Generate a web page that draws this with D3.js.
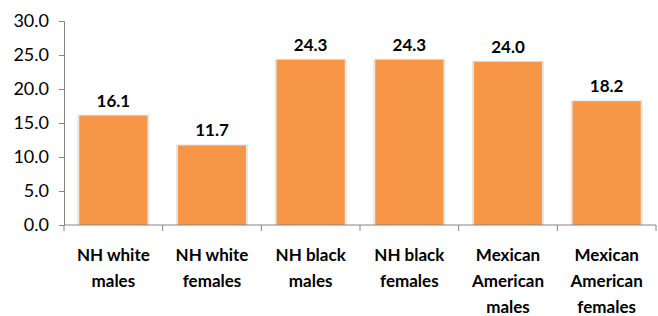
<!DOCTYPE html>
<html>
<head>
<meta charset="utf-8">
<script src="https://cdn.jsdelivr.net/npm/d3@7"></script>
<style>
  body { margin: 0; background: #fff; }
  svg { display: block; }
  text { font-family: Lato, "Open Sans", sans-serif; fill: #000; }
</style>
</head>
<body>
<script>
// chart size
const w = 658;
const h = 316;

// data
const categories = [
  ["NH white", "males"],
  ["NH white", "females"],
  ["NH black", "males"],
  ["NH black", "females"],
  ["Mexican", "American", "males"],
  ["Mexican", "American", "females"]
];
const values = [16.1, 11.7, 24.3, 24.3, 24.0, 18.2];
const yTicks = [0, 5, 10, 15, 20, 25, 30];

const plotLeft = 64, plotRight = 656, plotTop = 21, plotBottom = 225;

const svg = d3.select("body").append("svg")
    .attr("width", w)
    .attr("height", h);

const xScale = d3.scaleBand()
    .domain(d3.range(values.length))
    .range([plotLeft, plotRight])
    .paddingInner(0.31)
    .paddingOuter(0.155);

const yScale = d3.scaleLinear()
    .domain([0, 30])
    .range([plotBottom, plotTop]);

// bar shadows
svg.selectAll("rect.shadow")
    .data(values)
    .enter()
    .append("rect")
    .attr("class", "shadow")
    .attr("x", (d, i) => xScale(i) - 2)
    .attr("y", d => yScale(d) - 1)
    .attr("width", xScale.bandwidth() + 4)
    .attr("height", d => plotBottom - yScale(d) + 1)
    .attr("fill", "#e6e6e6");

// bars
svg.selectAll("rect.bar")
    .data(values)
    .enter()
    .append("rect")
    .attr("class", "bar")
    .attr("x", (d, i) => xScale(i))
    .attr("y", d => yScale(d))
    .attr("width", xScale.bandwidth())
    .attr("height", d => plotBottom - yScale(d))
    .attr("fill", "#f79646");

// value labels
svg.selectAll("text.val")
    .data(values)
    .enter()
    .append("text")
    .attr("class", "val")
    .attr("x", (d, i) => xScale(i) + xScale.bandwidth() / 2)
    .attr("y", d => yScale(d) - 9)
    .attr("text-anchor", "middle")
    .attr("font-size", 17)
    .attr("font-weight", "bold")
    .text(d => d.toFixed(1));

// y axis
const yAxis = svg.append("g")
    .attr("transform", `translate(${plotLeft},0)`)
    .call(d3.axisLeft(yScale).tickValues(yTicks).tickFormat(d3.format(".1f")).tickSizeOuter(5).tickSizeInner(5).tickPadding(10));
yAxis.selectAll("text").attr("font-size", 18).style("font-family", "Lato, sans-serif").attr("fill", "#000");
yAxis.selectAll("line, path").attr("stroke", "#868686");

// x axis
const xAxis = svg.append("g")
    .attr("transform", `translate(0,${plotBottom})`);
xAxis.append("line")
    .attr("x1", plotLeft).attr("x2", plotRight)
    .attr("stroke", "#868686");
const bounds = d3.range(values.length + 1).map(i => plotLeft + i * xScale.step());
xAxis.selectAll("line.tick")
    .data(bounds)
    .enter()
    .append("line")
    .attr("class", "tick")
    .attr("x1", d => d).attr("x2", d => d)
    .attr("y1", 0).attr("y2", 6)
    .attr("stroke", "#868686");

// category labels
const cat = svg.selectAll("text.cat")
    .data(categories)
    .enter()
    .append("text")
    .attr("class", "cat")
    .attr("text-anchor", "middle")
    .attr("font-size", 17)
    .attr("font-weight", "bold")
    .attr("transform", (d, i) => `translate(${xScale(i) + xScale.bandwidth() / 2},${plotBottom + 36})`);
cat.selectAll("tspan")
    .data(d => d)
    .enter()
    .append("tspan")
    .attr("x", 0)
    .attr("y", (d, i) => i * 26)
    .text(d => d);
</script>
</body>
</html>
